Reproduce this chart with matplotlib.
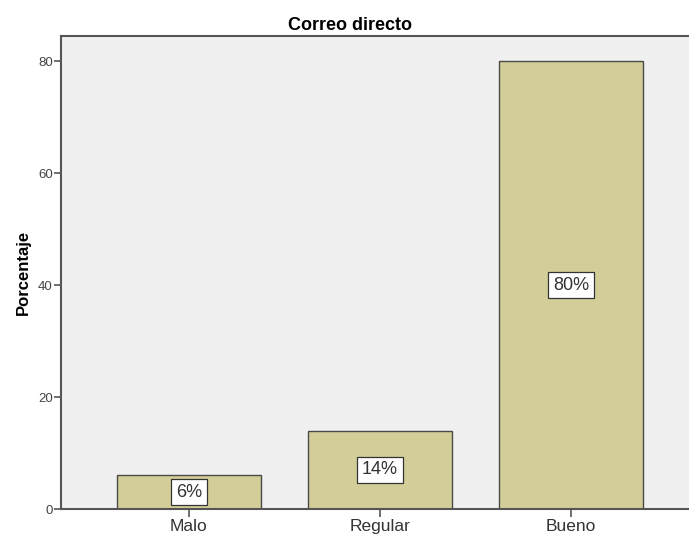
import matplotlib
matplotlib.use("Agg")
import matplotlib.pyplot as plt

categories = ["Malo", "Regular", "Bueno"]
values = [6, 14, 80]
labels = ["6%", "14%", "80%"]
yticks = [0, 20, 40, 60, 80]

plt.rcParams['font.family'] = ['Liberation Sans', 'DejaVu Sans']

fig = plt.figure(figsize=(6.89, 5.43), dpi=100)
ax = fig.add_axes([61/689, 34/543, 638/689, 473/543])
ax.set_facecolor('#F0F0F0')
x = list(range(len(categories)))
ax.bar(x, values, width=0.75, color='#D3CE97', edgecolor='#4a4a4a', linewidth=1.0, zorder=2)
for xi, v, lab in zip(x, values, labels):
    ax.text(xi, v/2, lab, ha='center', va='center', fontsize=13, color='#333333',
            bbox=dict(boxstyle='square,pad=0.25', facecolor='white', edgecolor='#333333', linewidth=0.9),
            zorder=3)
ax.set_xlim(-0.67, 2.67)
ax.set_ylim(0, 84.5)
ax.set_yticks(yticks)
ax.set_yticklabels([str(t) for t in yticks], fontsize=9.5, color='#444444')
ax.set_xticks(x)
ax.set_xticklabels(categories, fontsize=12.5, color='#333333')
ax.tick_params(axis='y', length=5, width=1.2, color='#555555', pad=1)
ax.tick_params(axis='x', length=6, width=1.2, color='#555555', pad=1)
for s in ax.spines.values():
    s.set_color('#555555')
    s.set_linewidth(1.5)
ax.set_ylabel('Porcentaje', fontsize=12, fontweight='bold', labelpad=5)
ax.set_title('Correo directo', fontsize=13, fontweight='bold', pad=4, x=0.453)
fig.savefig('out.png', dpi=100)
